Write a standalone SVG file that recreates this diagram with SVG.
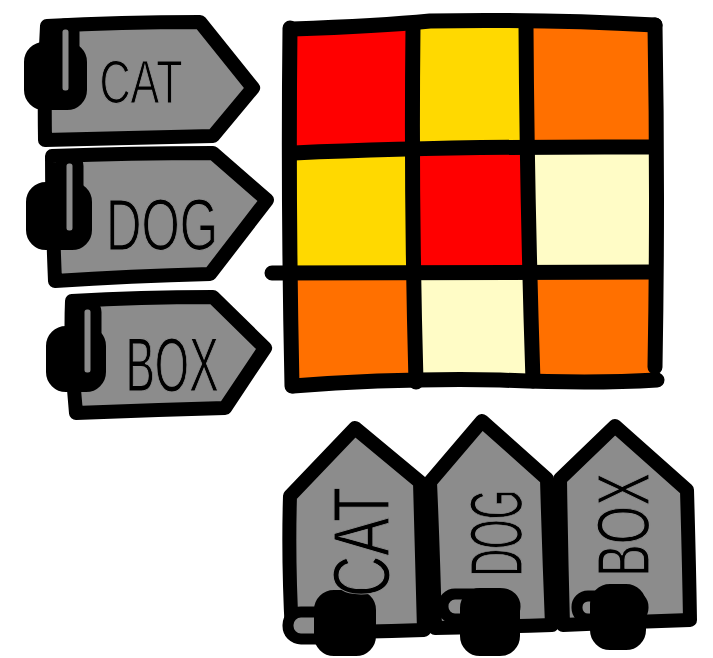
<svg xmlns="http://www.w3.org/2000/svg" width="713" height="658" viewBox="0 0 713 658">
<style>
.tag{fill:#8c8c8c;stroke:#000;stroke-width:14;stroke-linejoin:round;stroke-linecap:round}
.blob{fill:#000;stroke:#000;stroke-width:6;stroke-linejoin:round}
.loop{fill:#8c8c8c;stroke:#000;stroke-width:11}
.lbl{font-family:"Liberation Sans",Arial,sans-serif;fill:#000;stroke:#8c8c8c;stroke-width:1.2}
.ln{fill:none;stroke:#000;stroke-width:15;stroke-linecap:round;stroke-linejoin:round}
</style>
<rect width="713" height="658" fill="#fff"/>
<g id="matrix">
<rect x="290" y="28" width="123" height="122" fill="#ff0000"/>
<rect x="413" y="26" width="114" height="124" fill="#ffd900"/>
<rect x="527" y="25" width="128" height="125" fill="#ff7000"/>
<rect x="290" y="150" width="123" height="123" fill="#ffd900"/>
<rect x="413" y="150" width="114" height="123" fill="#ff0000"/>
<rect x="527" y="150" width="128" height="123" fill="#fffcc6"/>
<rect x="290" y="273" width="123" height="111" fill="#ff7000"/>
<rect x="413" y="273" width="114" height="111" fill="#fffcc6"/>
<rect x="527" y="273" width="128" height="111" fill="#ff7000"/>
<path class="ln" d="M292,29 Q380,26 430,21 Q540,19 655,25"/>
<path class="ln" d="M290,28 Q288,200 292,386"/>
<path class="ln" d="M655,25 Q658,200 655,367"/>
<path class="ln" d="M293,386 Q400,378 500,380 Q590,384 657,380"/>
<path class="ln" d="M413,27 Q411,200 416,382"/>
<path class="ln" d="M526,26 Q527,200 533,381"/>
<path class="ln" d="M294,153 Q450,146 655,147"/>
<path class="ln" d="M272,273 Q450,272 655,272"/>
</g>
<g id="tag-cat-left">
<path class="tag" d="M47,26 Q120,22 200,22 L253,88 L213,136 Q130,138 45,140 Q44,80 47,26 Z"/>
<rect class="blob" x="27" y="45" width="57" height="62" rx="17"/>
<rect class="loop" x="57" y="24" width="17" height="72" rx="8"/>
<text class="lbl" x="141" y="103" font-size="62" text-anchor="middle" textLength="83" lengthAdjust="spacingAndGlyphs">CAT</text>
</g>
<g id="tag-dog-left">
<path class="tag" d="M52,156 Q130,153 213,153 L267,200 L210,274 Q130,276 55,281 Q52,210 52,156 Z"/>
<rect class="blob" x="29" y="185" width="60" height="62" rx="17"/>
<rect class="loop" x="61" y="158" width="17" height="78" rx="8"/>
<text class="lbl" x="162" y="250" font-size="72" text-anchor="middle" textLength="112" lengthAdjust="spacingAndGlyphs">DOG</text>
</g>
<g id="tag-box-left">
<path class="tag" d="M72,301 Q140,297 213,297 L265,348 L225,408 Q150,410 76,413 Q70,350 72,301 Z"/>
<rect class="blob" x="49" y="329" width="54" height="60" rx="17"/>
<rect class="loop" x="79" y="304" width="17" height="74" rx="8"/>
<text class="lbl" x="172" y="391" font-size="76" text-anchor="middle" textLength="93" lengthAdjust="spacingAndGlyphs">BOX</text>
</g>
<g id="tag-cat-bottom">
<path class="tag" d="M290,496 L355,428 L420,482 Q422,560 424,630 Q360,632 292,633 Q288,560 290,496 Z"/>
<rect class="loop" x="288" y="612" width="70" height="27" rx="13"/>
<rect class="blob" x="317" y="593" width="56" height="60" rx="17"/>
<text class="lbl" transform="translate(389,542) rotate(-90)" font-size="80" text-anchor="middle" textLength="110" lengthAdjust="spacingAndGlyphs">CAT</text>
</g>
<g id="tag-dog-bottom">
<path class="tag" d="M430,482 L482,421 L547,479 Q549,550 552,625 Q490,627 435,628 Q433,550 430,482 Z"/>
<rect class="loop" x="443" y="594" width="72" height="25" rx="12"/>
<rect class="blob" x="463" y="591" width="54" height="62" rx="17"/>
<text class="lbl" transform="translate(522,533) rotate(-90)" font-size="74" text-anchor="middle" textLength="87" lengthAdjust="spacingAndGlyphs">DOG</text>
</g>
<g id="tag-box-bottom">
<path class="tag" d="M560,479 L615,426 L687,490 Q689,560 690,620 Q625,622 563,625 Q561,550 560,479 Z"/>
<rect class="loop" x="577" y="596" width="66" height="23" rx="11"/>
<rect class="blob" x="593" y="587" width="50" height="60" rx="17"/>
<text class="lbl" transform="translate(649,525) rotate(-90)" font-size="74" text-anchor="middle" textLength="104" lengthAdjust="spacingAndGlyphs">BOX</text>
</g>
</svg>
